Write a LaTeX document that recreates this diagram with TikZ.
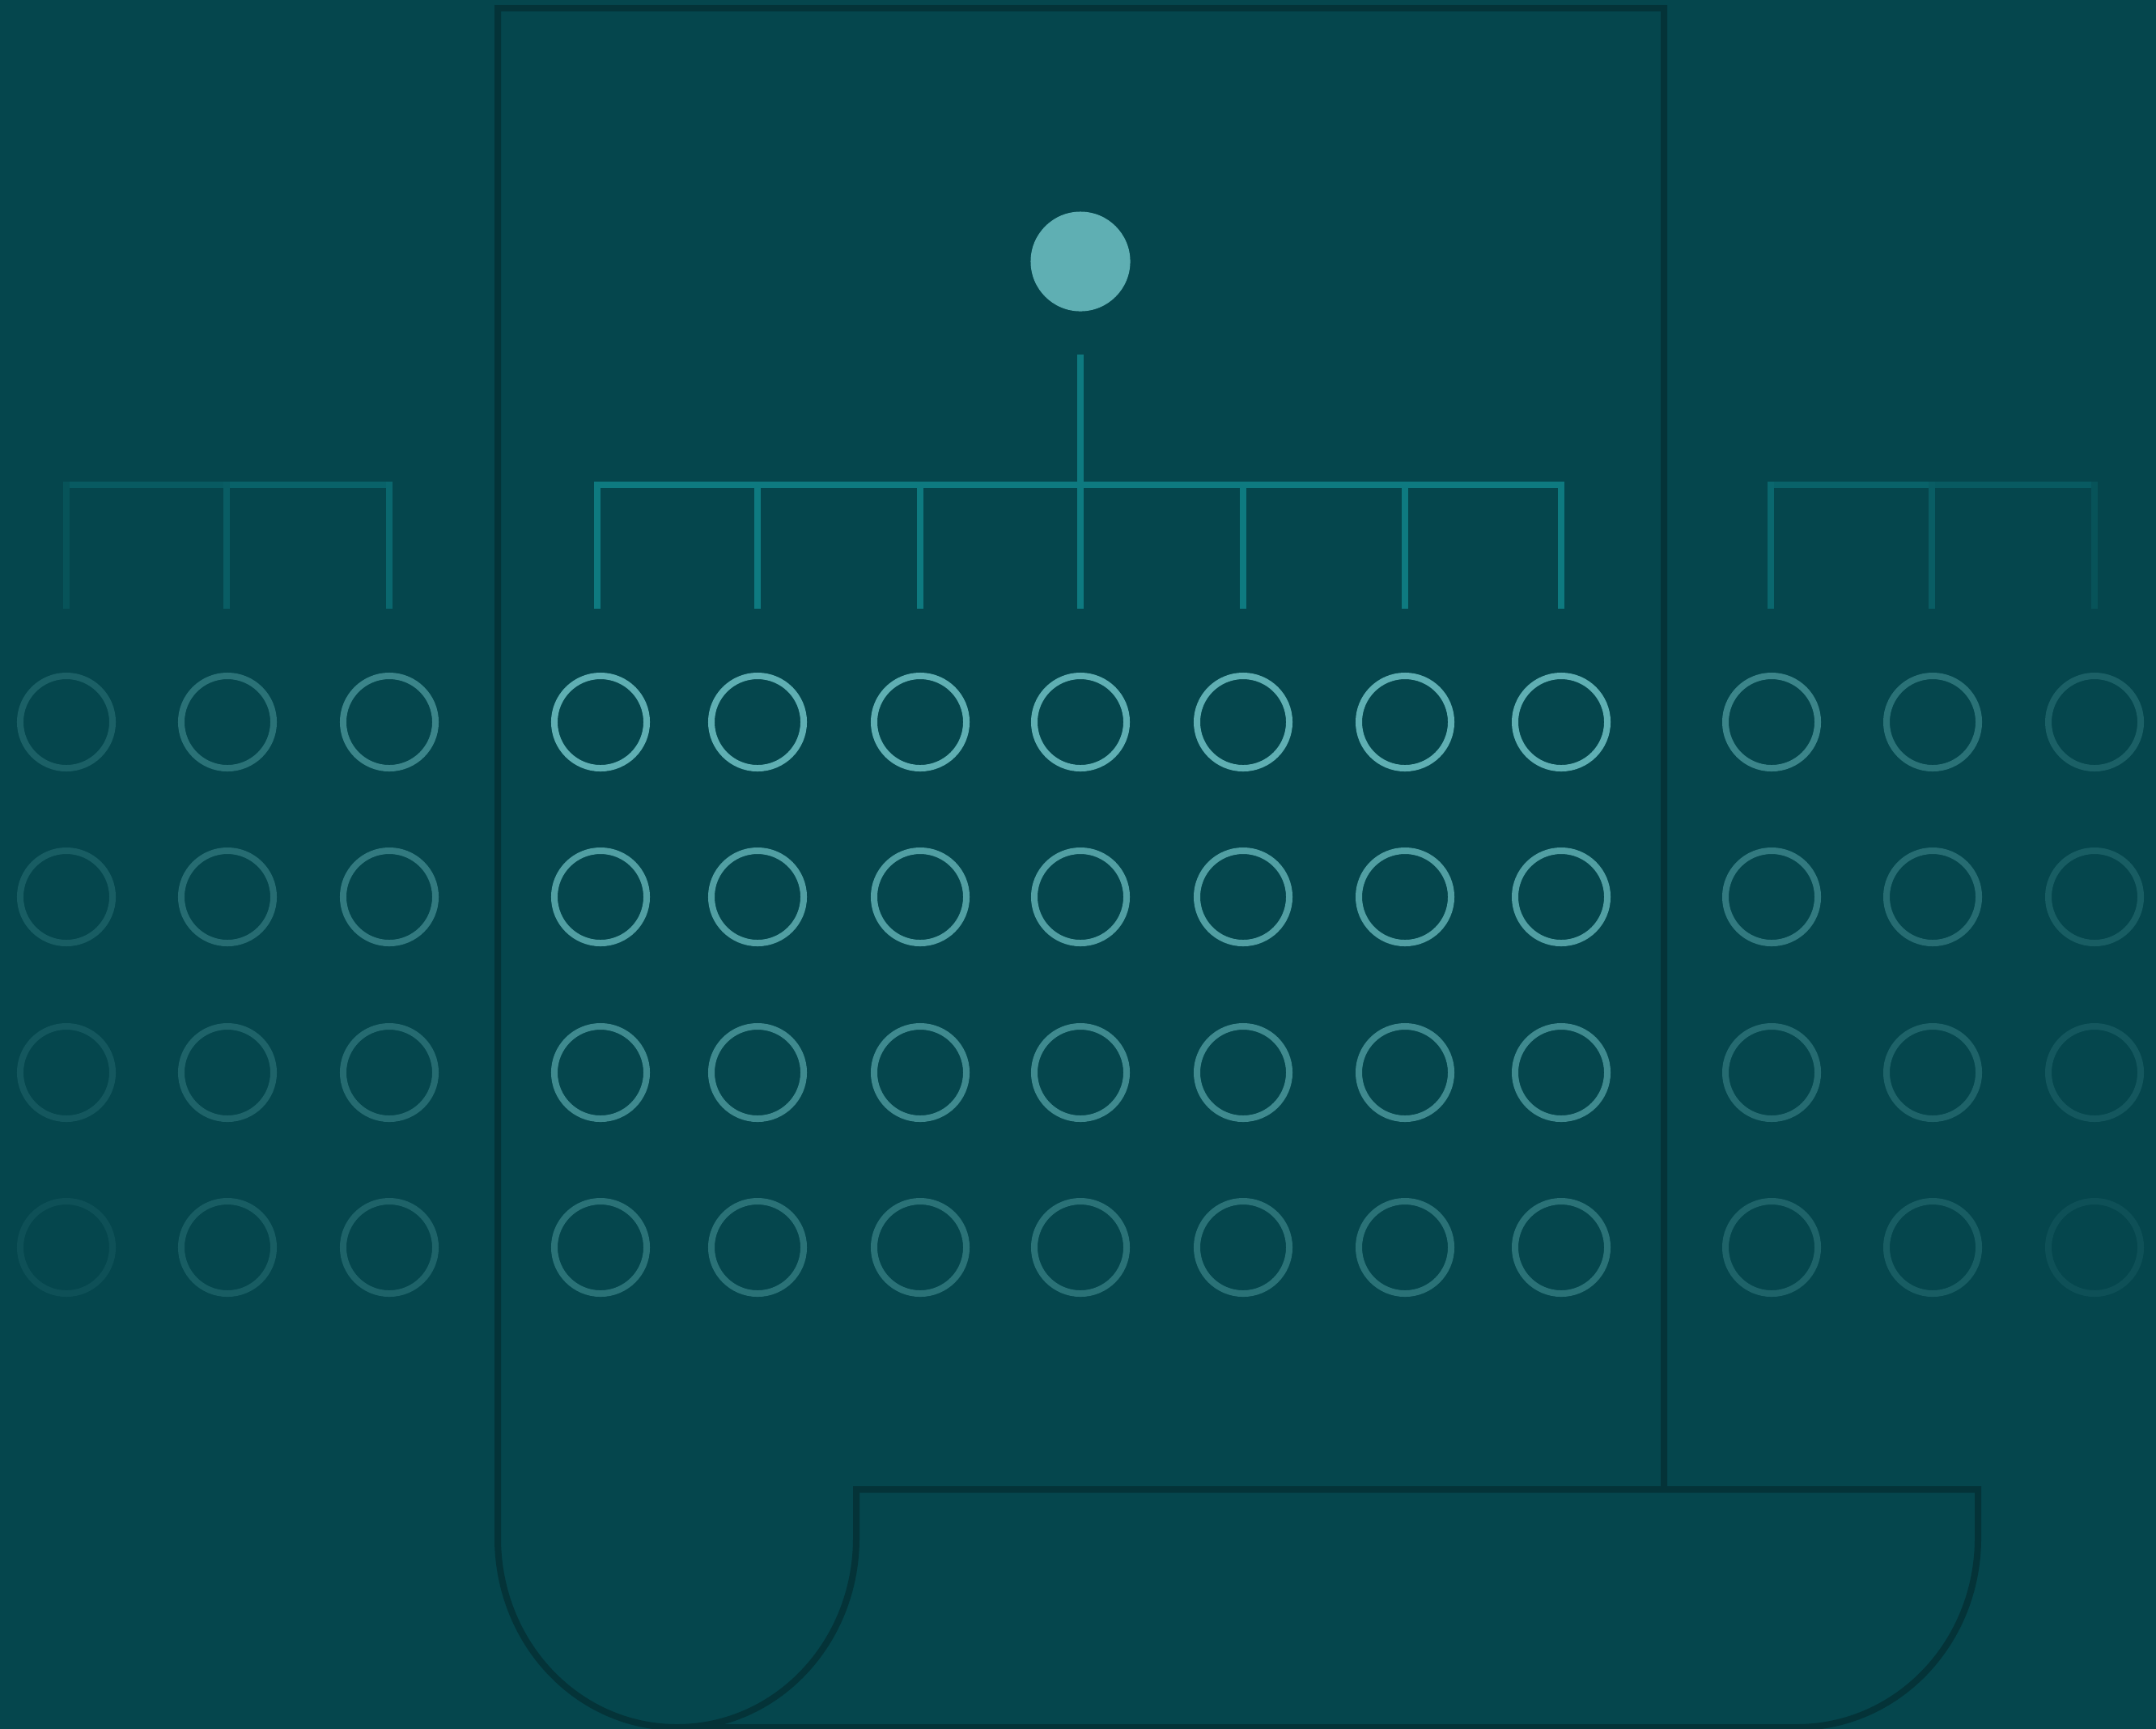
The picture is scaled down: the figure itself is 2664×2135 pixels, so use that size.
\documentclass[tikz,border=0pt]{standalone}
\definecolor{bg}{HTML}{05464D}
\definecolor{scrollc}{HTML}{043338}
\definecolor{light}{HTML}{5FAFB3}
\definecolor{treec}{HTML}{0E7A80}
\tikzset{
  scrollline/.style={draw=scrollc, line width=0.08cm, line join=miter},
  ring/.style={circle, draw=light, line width=0.08cm, minimum size=1.14cm, inner sep=0pt},
  rootdot/.style={circle, fill=light, minimum size=1.23cm, inner sep=0pt},
  treeline/.style={draw=treec, line width=0.08cm},
  sidebar/.style={treeline, shorten <=0.04cm, shorten >=0.04cm},
}
\begin{document}
\begin{tikzpicture}[x=0.01cm,y=-0.01cm]
\useasboundingbox (0,0) rectangle (2664,2135);
\fill[bg] (-20,-20) rectangle (2684,2155);

% scroll outline
\draw[scrollline] (2056,1840) -- (2056,10) -- (615,10) -- (615,1900)
  .. controls (615,2030) and (714,2134) .. (836.5,2134)
  .. controls (959,2134) and (1058,2030) .. (1058,1900)
  -- (1058,1840) -- (2444,1840) -- (2444,1900)
  .. controls (2444,2030) and (2344,2134) .. (2220,2134) -- (836.5,2134);

% root
\node[rootdot] (root) at (1335,323) {};

% main circles
\foreach \x [count=\i] in {742,936,1137,1335,1536,1736,1929}
  \foreach \y/\a [count=\j] in {892/1,1108/0.85,1325/0.65,1541/0.42}
    \node[ring, draw opacity=\a] (m\i-\j) at (\x,\y) {};

% left circles
\foreach \x/\a/\b/\c/\d [count=\i] in {82/0.25/0.22/0.17/0.10, 281/0.42/0.37/0.28/0.22, 481/0.60/0.50/0.36/0.28}
  \foreach \y/\o [count=\j] in {892/\a,1108/\b,1325/\c,1541/\d}
    \node[ring, draw opacity=\o] (l\i-\j) at (\x,\y) {};

% right circles
\foreach \x/\a/\b/\c/\d [count=\i] in {2189/0.60/0.50/0.36/0.28, 2388/0.42/0.37/0.28/0.22, 2588/0.25/0.22/0.17/0.10}
  \foreach \y/\o [count=\j] in {892/\a,1108/\b,1325/\c,1541/\d}
    \node[ring, draw opacity=\o] (r\i-\j) at (\x,\y) {};

% main tree
\coordinate (stemtop) at (1335,438);
\foreach \x [count=\i] in {738,936,1137,1335,1536,1736,1929} {
  \coordinate (b\i) at (\x,599);
  \coordinate (d\i) at (\x,752);
}
\draw[treeline] (d1) -- (b1) -- (b7) -- (d7);
\draw[treeline] (stemtop) -- (d4);
\foreach \i in {2,3,5,6}
  \draw[treeline] (b\i) -- (d\i);

% left tree
\foreach \x [count=\i] in {82,280,481} {
  \coordinate (lt\i) at (\x,595);
  \coordinate (lb\i) at (\x,599);
  \coordinate (ld\i) at (\x,752);
}
\draw[treeline, draw opacity=0.25] (lt1) -- (ld1);
\draw[treeline, draw opacity=0.45] (lt2) -- (ld2);
\draw[treeline, draw opacity=0.65] (lt3) -- (ld3);
\draw[sidebar, draw opacity=0.40] (lb1) -- (lb2);
\draw[sidebar, draw opacity=0.55] (lb2) -- (lb3);

% right tree
\foreach \x [count=\i] in {2188,2387,2588} {
  \coordinate (rt\i) at (\x,595);
  \coordinate (rb\i) at (\x,599);
  \coordinate (rd\i) at (\x,752);
}
\draw[treeline, draw opacity=0.65] (rt1) -- (rd1);
\draw[treeline, draw opacity=0.45] (rt2) -- (rd2);
\draw[treeline, draw opacity=0.25] (rt3) -- (rd3);
\draw[sidebar, draw opacity=0.55] (rb1) -- (rb2);
\draw[sidebar, draw opacity=0.40] (rb2) -- (rb3);
\end{tikzpicture}
\end{document}
